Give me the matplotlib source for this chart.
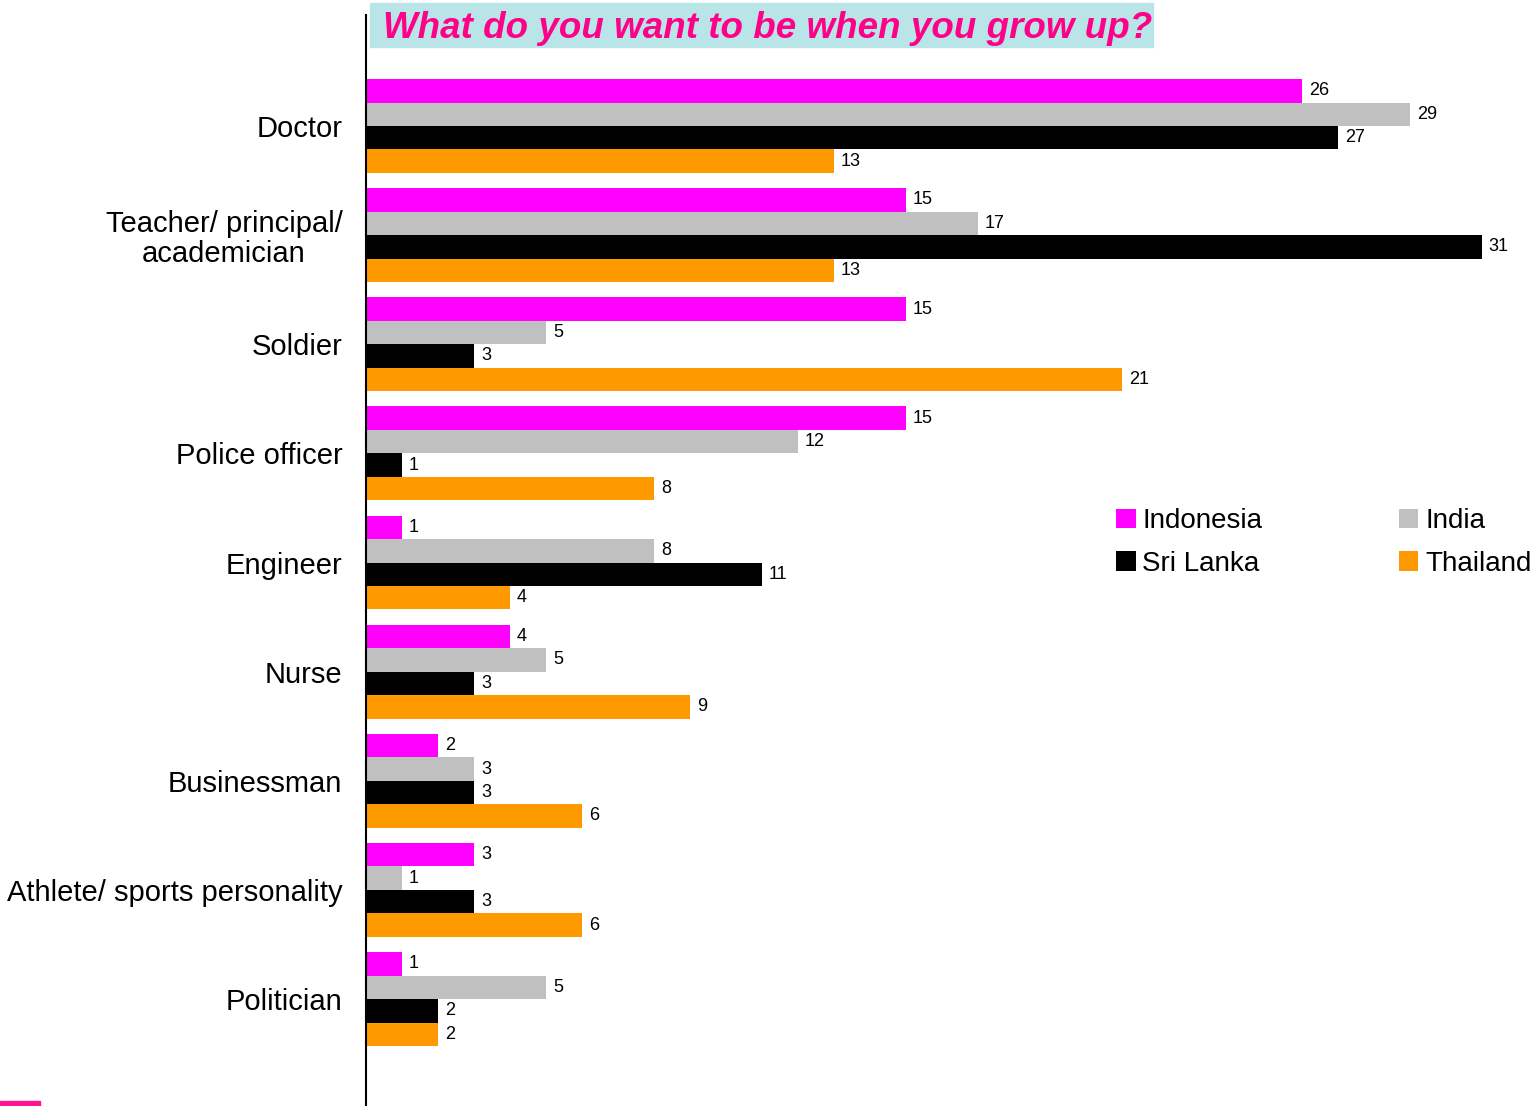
import numpy as np
import matplotlib
matplotlib.use("Agg")
import matplotlib.pyplot as plt
from matplotlib.patches import Rectangle

plt.rcParams['font.family'] = ['Liberation Sans', 'DejaVu Sans']

# data
categories = ["Doctor", "Teacher/ principal/\nacademician", "Soldier", "Police officer",
              "Engineer", "Nurse", "Businessman", "Athlete/ sports personality", "Politician"]
indonesia = [26, 15, 15, 15, 1, 4, 2, 3, 1]
india = [29, 17, 5, 12, 8, 5, 3, 1, 5]
sri_lanka = [27, 31, 3, 1, 11, 3, 3, 3, 2]
thailand = [13, 13, 21, 8, 4, 9, 6, 6, 2]
series_names = ["Indonesia", "India", "Sri Lanka", "Thailand"]
colors = ["#FF00FF", "#C0C0C0", "#000000", "#FF9900"]

fig = plt.figure(figsize=(15.4, 11.06), dpi=100)
ax = fig.add_axes([366 / 1540, 0, 1 - 366 / 1540, 1 - 15 / 1106])
ax.patch.set_alpha(0)

y = np.arange(len(categories))
h = 0.215
bars = []
for j, (vals, name, c) in enumerate(zip([indonesia, india, sri_lanka, thailand], series_names, colors)):
    b = ax.barh(y + (j - 1.5) * h, vals, height=h, color=c, label=name)
    bars.append(b)
    for yy, v in zip(y + (j - 1.5) * h, vals):
        ax.annotate(str(v), (v, yy), xytext=(5, 0), textcoords="offset points",
                    va="center", ha="left", fontsize=13)

ax.set_xlim(0, (1540 - 367) / 35.96)
ax.set_ylim(8.98, -1.017)
ax.set_yticks(y)
ax.set_yticklabels(categories, fontsize=21)
ax.tick_params(axis="y", length=0, pad=17)
ax.get_yticklabels()[1].set_multialignment("center")
ax.get_yticklabels()[1].set_linespacing(1.1)
ax.set_xticks([])
for s in ["top", "right", "bottom"]:
    ax.spines[s].set_visible(False)
ax.spines["left"].set_linewidth(1.5)

handles = [bars[0], bars[2], bars[1], bars[3]]
labels = ["Indonesia", "Sri Lanka", "India", "Thailand"]
ax.legend(handles, labels, ncol=2, frameon=False, fontsize=20,
          loc="upper left", bbox_to_anchor=(1105 / 1540, 1 - 497 / 1106),
          bbox_transform=fig.transFigure, handlelength=0.7, handleheight=0.7,
          handletextpad=0.25, columnspacing=4.9, labelspacing=0.6, borderaxespad=0)

fig.text(383 / 1540, 1 - 29 / 1106, "What do you want to be when you grow up?",
         fontsize=26.5, fontweight="bold", fontstyle="italic", color="#FF0088",
         va="center", ha="left")
fig.patches.append(Rectangle((370 / 1540, 1 - 47 / 1106), 783 / 1540, 44 / 1106,
                             transform=fig.transFigure, color="#B9E5E8", zorder=-1))
fig.patches.append(Rectangle((0, 0), 40 / 1540, 5 / 1106, transform=fig.transFigure,
                             color="#FF1493", zorder=-1))

fig.savefig("out.png", dpi=100)
